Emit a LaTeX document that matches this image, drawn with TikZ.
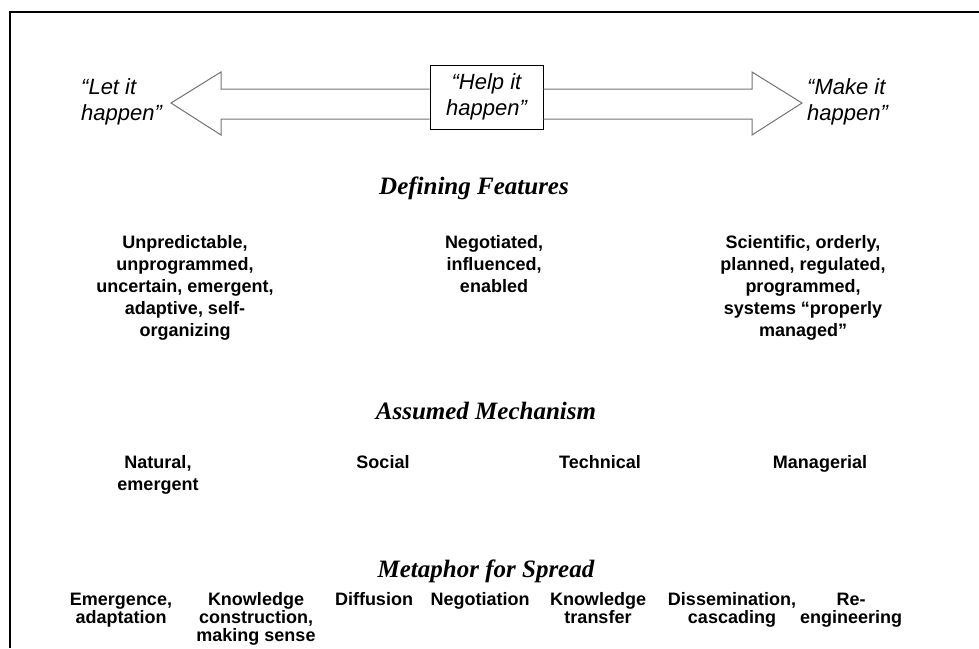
\documentclass[tikz,border=0pt]{standalone}
\usepackage{fontspec}
\setmainfont{Liberation Sans}
\newfontfamily\titlefont{Liberation Serif}
\newcommand\noskipfix{\lineskiplimit=-20pt\relax}
\begin{document}
\begin{tikzpicture}[x=1pt,y=-1pt,
  body/.style={font=\fontsize{18}{22}\selectfont\bfseries\noskipfix, align=center, inner sep=0pt, anchor=north},
  tight/.style={font=\fontsize{18}{18}\selectfont\bfseries\noskipfix},
  quote/.style={font=\fontsize{22}{26}\selectfont\itshape, align=left, inner sep=0pt},
  heading/.style={font=\titlefont\fontsize{25}{30}\selectfont\bfseries\itshape, inner sep=0pt},
  arrowline/.style={draw=black!55, line width=1pt, line join=miter}]
\useasboundingbox (0,0) rectangle (979,648);
\draw[line width=2.5pt] (10,648) -- (10,12) -- (979,12);

% central box and double arrow
\node[quote, align=center, draw, line width=0.8pt, minimum width=113pt, minimum height=64pt] (help) at (486.5,97) {“Help it\\happen”};
\draw[arrowline] (help.west |- 0,89) -- (221,89) -- (221,72) -- (171,103) -- (221,135) -- (221,119) -- (help.west |- 0,119);
\draw[arrowline] (help.east |- 0,89) -- (752,89) -- (752,72) -- (802,103) -- (752,135) -- (752,119) -- (help.east |- 0,119);
\node[quote, anchor=west] (let) at (81,102) {“Let it\\happen”};
\node[quote, anchor=west] (make) at (807,102) {“Make it\\happen”};

% Defining features
\node[heading] (df) at (474,188) {Defining Features};
\node[body] (f1) at (185,233) {\strut Unpredictable,\\unprogrammed,\\uncertain, emergent,\\adaptive, self-\\organizing};
\node[body] (f2) at (494,233) {\strut Negotiated,\\influenced,\\enabled};
\node[body] (f3) at (803,233) {\strut Scientific, orderly,\\planned, regulated,\\programmed,\\systems ``properly\\managed''};

% Assumed mechanism
\node[heading] (am) at (486,411) {Assumed Mechanism};
\node[body] (m1) at (158,453) {\strut Natural,\\emergent};
\node[body] (m2) at (383,453) {\strut Social};
\node[body] (m3) at (600,453) {\strut Technical};
\node[body] (m4) at (820,453) {\strut Managerial};

% Metaphor for spread
\node[heading] (mf) at (486,571) {Metaphor for Spread};
\node[body, tight] (s1) at (121,592.4) {\strut Emergence,\\adaptation};
\node[body, tight] (s2) at (256,592.4) {\strut Knowledge\\construction,\\making sense};
\node[body, tight] (s3) at (374,592.4) {\strut Diffusion};
\node[body, tight] (s4) at (480,592.4) {\strut Negotiation};
\node[body, tight] (s5) at (598,592.4) {\strut Knowledge\\transfer};
\node[body, tight] (s6) at (732,592.4) {\strut Dissemination,\\cascading};
\node[body, tight] (s7) at (851,592.4) {\strut Re-\\engineering};
\end{tikzpicture}
\end{document}
